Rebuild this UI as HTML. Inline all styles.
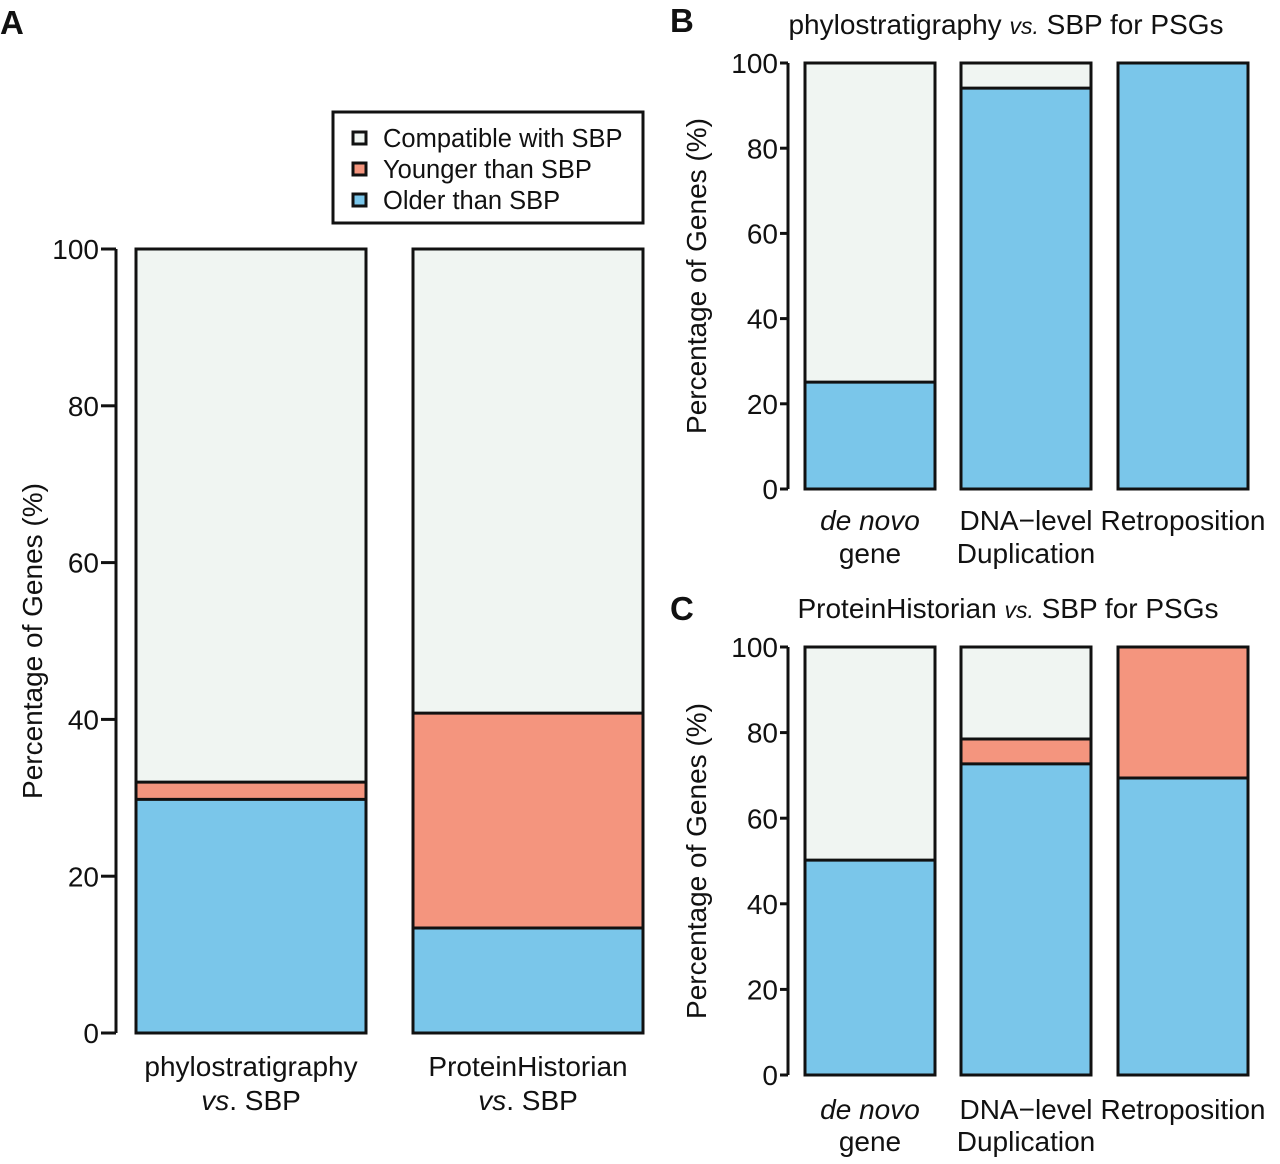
<!DOCTYPE html>
<html><head><meta charset="utf-8"><style>
body{margin:0;background:#fff;}
svg{display:block;font-family:"Liberation Sans",Arial,sans-serif;}
</style></head><body>
<svg id="s" width="1280" height="1164" viewBox="0 0 1280 1164"></svg>
<script>
// Panel A data
const aCategories = ["phylostratigraphy|vs. SBP","ProteinHistorian|vs. SBP"];
const aOlder = [29.8, 13.4];
const aYounger = [2.2, 27.4];
// Panel B data
const bCategories = ["de novo|gene","DNA\u2212level|Duplication","Retroposition|"];
const bOlder = [25.1, 94.1, 100];
const bYounger = [0, 0, 0];
// Panel C data
const cCategories = ["de novo|gene","DNA\u2212level|Duplication","Retroposition|"];
const cOlder = [50.2, 72.7, 69.4];
const cYounger = [0, 5.8, 30.6];
const yTicks = [0,20,40,60,80,100];

const C_OLD="#7ac6ea", C_YNG="#f4957e", C_CMP="#f0f5f2";
const svg=document.getElementById('s');
const NS="http://www.w3.org/2000/svg";
function mk(tag,attrs,name,parent){
  const e=document.createElementNS(NS,tag);
  for(const k in attrs)e.setAttribute(k,attrs[k]);
  
  
  (parent||svg).appendChild(e);return e;
}
function txt(x,y,s,size,name,opts){
  const t=mk('text',Object.assign({x:x,y:y,'font-size':size,fill:'#111'},opts||{}),name);
  t.textContent=s;return t;
}
function panel(p){
  const y=v=>p.y0-(v/100)*(p.y0-p.y100);
  const g=mk('g',{},p.id+'-chart');
  mk('line',{x1:p.ax,x2:p.ax,y1:y(0),y2:y(100),stroke:'#111','stroke-width':3},p.id+'-y-axis',g);
  yTicks.forEach(v=>{
    mk('line',{x1:p.ax-p.tl,x2:p.ax,y1:y(v),y2:y(v),stroke:'#111','stroke-width':3},p.id+'-y-tick',g);
    txt(p.ax-p.tl-2,y(v)+p.fs*0.36,String(v),p.fs,p.id+'-y-tick-label',{'text-anchor':'end'});
  });
  txt(0,0,"Percentage of Genes (%)",p.fs,p.id+'-y-axis-title',{'text-anchor':'middle',transform:`translate(${p.ylx},${(y(0)+y(100))/2}) rotate(-90)`});
  p.cats.forEach((c,i)=>{
    const x=p.bx[i], w=p.bw;
    const o=p.older[i], yo=p.younger[i];
    mk('rect',{x:x,y:y(100),width:w,height:y(0)-y(100),fill:C_CMP},p.id+'-bar-compatible-'+i,g);
    mk('rect',{x:x,y:y(o+yo),width:w,height:y(0)-y(o+yo),fill:C_YNG},p.id+'-bar-younger-'+i,g);
    mk('rect',{x:x,y:y(o),width:w,height:y(0)-y(o),fill:C_OLD},p.id+'-bar-older-'+i,g);
    if(o<100) mk('line',{x1:x,x2:x+w,y1:y(o),y2:y(o),stroke:'#111','stroke-width':3},p.id+'-bar-divider',g);
    if(yo>0 && o+yo<100) mk('line',{x1:x,x2:x+w,y1:y(o+yo),y2:y(o+yo),stroke:'#111','stroke-width':3},p.id+'-bar-divider',g);
    mk('rect',{x:x,y:y(100),width:w,height:y(0)-y(100),fill:'none',stroke:'#111','stroke-width':3},p.id+'-bar-outline-'+i,g);
    const [l1,l2]=c.split('|');
    const cx=x+w/2;
    const it1=l1.startsWith('de novo');
    txt(cx,p.lab1,l1,p.fs,p.id+'-x-label',{'text-anchor':'middle','font-style':it1?'italic':'normal'});
    if(l2){
      if(l2.startsWith('vs.')){
        const t=mk('text',{x:cx,y:p.lab2,'font-size':p.fs,'text-anchor':'middle',fill:'#111'},p.id+'-x-label-2');
        const a=document.createElementNS(NS,'tspan');a.setAttribute('font-style','italic');a.textContent='vs';t.appendChild(a);
        t.appendChild(document.createTextNode('. SBP'));
      } else txt(cx,p.lab2,l2,p.fs,p.id+'-x-label-2',{'text-anchor':'middle'});
    }
  });
}
panel({id:'a',cats:aCategories,older:aOlder,younger:aYounger,y0:1033,y100:249,ax:116,tl:15,bx:[136,413],bw:230,fs:28,ylx:42,lab1:1076,lab2:1110});
panel({id:'b',cats:bCategories,older:bOlder,younger:bYounger,y0:489,y100:63,ax:788,tl:8,bx:[805,961,1118],bw:130,fs:28,ylx:706,lab1:530,lab2:563});
panel({id:'c',cats:cCategories,older:cOlder,younger:cYounger,y0:1075,y100:647,ax:788,tl:8,bx:[805,961,1118],bw:130,fs:28,ylx:706,lab1:1119,lab2:1151});
txt(0,34,"A",33,'panel-label-a',{'font-weight':'bold'});
txt(670,32,"B",33,'panel-label-b',{'font-weight':'bold'});
txt(670,620,"C",33,'panel-label-c',{'font-weight':'bold'});
function title(x,y,a,b,name){
  const t=mk('text',{x:x,y:y,'font-size':28,'text-anchor':'middle',fill:'#111'},name);
  t.appendChild(document.createTextNode(a));
  const s=document.createElementNS(NS,'tspan');s.setAttribute('font-style','italic');s.setAttribute('font-size','23');s.textContent='vs.';t.appendChild(s);
  t.appendChild(document.createTextNode(b));
}
title(1006,34,"phylostratigraphy "," SBP for PSGs",'title-b');
title(1008,618,"ProteinHistorian "," SBP for PSGs",'title-c');
const lg=mk('g',{},'legend');
mk('rect',{x:333,y:112,width:310,height:111,fill:'#fff',stroke:'#111','stroke-width':3},'legend-box',lg);
[["Compatible with SBP",C_CMP],["Younger than SBP",C_YNG],["Older than SBP",C_OLD]].forEach((e,i)=>{
  const yy=138+i*31;
  mk('rect',{x:353,y:yy-6,width:13,height:12,fill:e[1],stroke:'#111','stroke-width':3},'legend-swatch',lg);
  txt(383,yy+9,e[0],25.5,'legend-entry');
});
</script>
</body></html>
